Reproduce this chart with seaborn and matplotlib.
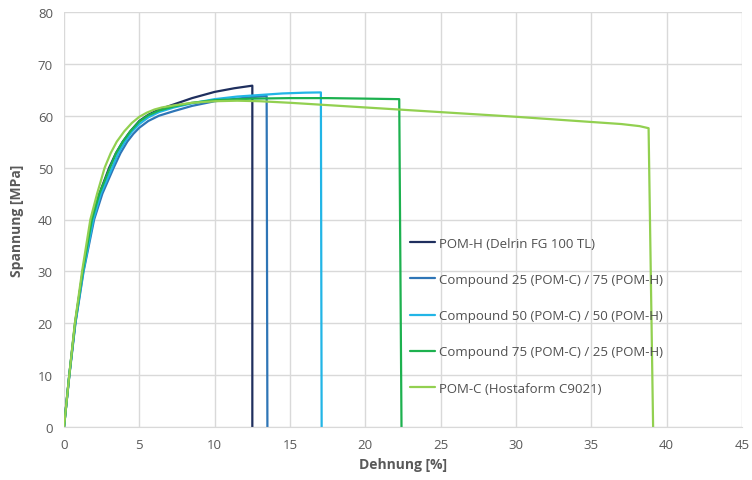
import matplotlib
matplotlib.use("Agg")
import matplotlib.pyplot as plt
import seaborn as sns
import pandas as pd

# ---- data ----
labels = [
    "POM-H (Delrin FG 100 TL)",
    "Compound 25 (POM-C) / 75 (POM-H)",
    "Compound 50 (POM-C) / 50 (POM-H)",
    "Compound 75 (POM-C) / 25 (POM-H)",
    "POM-C (Hostaform C9021)",
]
colors = ["#1F2F5E", "#2E75B6", "#22B5E6", "#1DB14F", "#92D050"]

pomh_strain = [0, 0.35, 0.74, 1.25, 1.85, 2.35, 3.0, 3.45, 3.9, 4.4, 5.0, 5.6, 6.3, 7.3, 8.5, 10.0, 11.3, 12.5, 12.5]
pomh_stress = [0, 10, 20, 30, 40, 45, 50, 52.8, 55, 57.0, 59.0, 60.2, 61.2, 62.2, 63.4, 64.6, 65.3, 65.8, 0]

c25_strain = [0, 0.36, 0.76, 1.3, 2.0, 2.55, 3.3, 3.75, 4.2, 4.6, 5.0, 5.6, 6.3, 7.3, 8.5, 10.0, 11.5, 12.5, 13.45, 13.5]
c25_stress = [0, 10, 20, 30, 40, 45, 50, 52.8, 55, 56.5, 57.7, 59.0, 60.0, 60.9, 61.9, 62.8, 63.3, 63.6, 63.8, 0]

c50_strain = [0, 0.35, 0.75, 1.28, 1.95, 2.45, 3.2, 3.6, 4.05, 4.5, 5.0, 5.6, 6.3, 7.3, 8.5, 10.0, 11.5, 13.0, 14.5, 16.0, 17.05, 17.1]
c50_stress = [0, 10, 20, 30, 40, 45, 50, 52.8, 55, 56.9, 58.4, 59.7, 60.7, 61.6, 62.4, 63.2, 63.7, 64.0, 64.3, 64.45, 64.5, 0]

c75_strain = [0, 0.35, 0.73, 1.24, 1.85, 2.35, 3.05, 3.45, 3.9, 4.4, 5.0, 5.6, 6.3, 7.3, 8.5, 10.0, 12.5, 15.0, 17.5, 20.0, 22.25, 22.4]
c75_stress = [0, 10, 20, 30, 40, 45, 50, 52.8, 55, 57.0, 58.9, 60.1, 61.0, 61.8, 62.5, 63.0, 63.3, 63.4, 63.4, 63.3, 63.2, 0]

pomc_strain = [0, 0.35, 0.72, 1.2, 1.75, 2.2, 2.7, 3.1, 3.5, 4.0, 4.5, 5.0, 5.5, 6.0, 6.5, 7.3, 8.5, 10.0, 11.5, 13.0, 15.0, 20.0, 25.0, 30.0, 35.0, 37.0, 38.2, 38.8, 39.1]
pomc_stress = [0, 10, 20, 30, 40, 45, 50, 52.8, 55, 57.0, 58.6, 59.8, 60.6, 61.2, 61.6, 62.0, 62.5, 62.8, 62.9, 62.8, 62.5, 61.6, 60.7, 59.8, 58.8, 58.4, 58.0, 57.6, 0]

x_ticks = [0, 5, 10, 15, 20, 25, 30, 35, 40, 45]
y_ticks = [0, 10, 20, 30, 40, 50, 60, 70, 80]

# ---- build long table ----
series = [
    (pomh_strain, pomh_stress),
    (c25_strain, c25_stress),
    (c50_strain, c50_stress),
    (c75_strain, c75_stress),
    (pomc_strain, pomc_stress),
]
rows = []
for lab, (xs, ys) in zip(labels, series):
    for x, y in zip(xs, ys):
        rows.append({"Material": lab, "Dehnung": x, "Spannung": y})
df = pd.DataFrame(rows)

sns.set_style("white")
plt.rcParams["font.family"] = ["Open Sans", "DejaVu Sans"]

fig = plt.figure(figsize=(7.52, 4.81), dpi=100)
ax = fig.add_axes([64 / 752, 1 - 428 / 481, 678 / 752, 415 / 481])

sns.lineplot(
    data=df, x="Dehnung", y="Spannung", hue="Material", hue_order=labels,
    palette=colors, sort=False, estimator=None, units="Material",
    linewidth=1.6, ax=ax,
)

ax.set_xlim(0, 45)
ax.set_ylim(0, 80)
ax.set_xticks(x_ticks)
ax.set_yticks(y_ticks)
ax.grid(True, color="#D9D9D9", linewidth=1.0)
ax.set_axisbelow(True)
for s in ["top", "right", "left"]:
    ax.spines[s].set_visible(False)
ax.spines["bottom"].set_color("#D9D9D9")
ax.tick_params(axis="both", length=0, labelsize=9.5, colors="#595959", pad=8)
ax.set_xlabel("Dehnung [%]", fontsize=10, fontweight="bold", color="#595959", labelpad=4)
ax.set_ylabel("Spannung [MPa]", fontsize=10, fontweight="bold", color="#595959", labelpad=10)

leg = ax.legend(
    loc="upper left", bbox_to_anchor=(0.493, 0.487), frameon=False,
    fontsize=9.5, labelspacing=1.76, handlelength=1.9, handletextpad=0.3,
)
for t in leg.get_texts():
    t.set_color("#505050")

fig.savefig("out.png", dpi=100)
